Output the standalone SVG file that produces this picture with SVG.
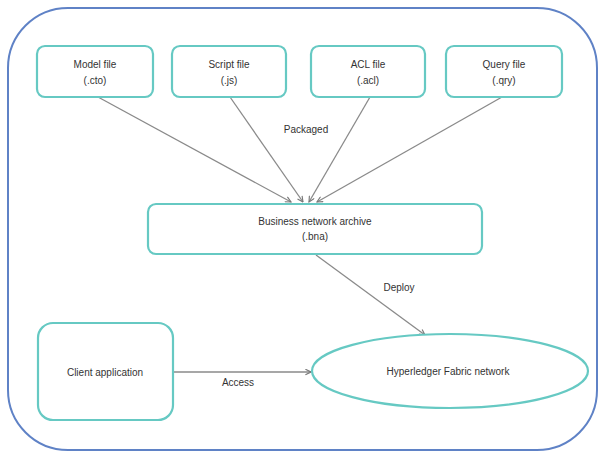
<svg xmlns="http://www.w3.org/2000/svg" width="601" height="453" viewBox="0 0 601 453">
  <style>
    .frame { fill: #ffffff; stroke: #5f82c6; stroke-width: 2; }
    .node { fill: #ffffff; stroke: #66c9c3; stroke-width: 2.2; }
    .edge { fill: none; stroke: #8a8a8a; stroke-width: 1.3; marker-end: url(#arrow); }
    text { font-family: "Liberation Sans", Arial, sans-serif; font-size: 10px; fill: #333333; text-anchor: middle; }
  </style>
  <defs>
    <marker id="arrow" viewBox="0 0 10 10" refX="9" refY="5" markerWidth="7" markerHeight="7" orient="auto" markerUnits="userSpaceOnUse">
      <path d="M1,1 L9,5 L1,9" fill="none" stroke="#777777" stroke-width="1.6"/>
    </marker>
  </defs>
  <rect width="601" height="453" fill="#ffffff"/>
  <!-- outer container -->
  <rect class="frame" x="8" y="8" width="589" height="442" rx="60" ry="60"/>

  <!-- connectors -->
  <g id="connectors">
    <line class="edge" x1="98" y1="97" x2="291" y2="202"/>
    <line class="edge" x1="230" y1="97" x2="303" y2="202"/>
    <line class="edge" x1="370" y1="97" x2="309" y2="202"/>
    <line class="edge" x1="502" y1="97" x2="317" y2="202"/>
    <line class="edge" x1="316" y1="255" x2="425" y2="335"/>
    <line class="edge" x1="173" y1="372" x2="311" y2="372"/>
    <text x="306" y="133">Packaged</text>
    <text x="399" y="291">Deploy</text>
    <text x="238" y="386">Access</text>
  </g>

  <g id="model-file">
    <rect class="node" x="37" y="46" width="116" height="51" rx="8"/>
    <text x="95" y="68">Model file</text>
    <text x="95" y="84">(.cto)</text>
  </g>
  <g id="script-file">
    <rect class="node" x="172" y="46" width="114" height="51" rx="8"/>
    <text x="229" y="68">Script file</text>
    <text x="229" y="84">(.js)</text>
  </g>
  <g id="acl-file">
    <rect class="node" x="311" y="46" width="114" height="51" rx="8"/>
    <text x="368" y="68">ACL file</text>
    <text x="368" y="84">(.acl)</text>
  </g>
  <g id="query-file">
    <rect class="node" x="446" y="46" width="116" height="51" rx="8"/>
    <text x="504" y="68">Query file</text>
    <text x="504" y="84">(.qry)</text>
  </g>
  <g id="bna">
    <rect class="node" x="148" y="204" width="334" height="50" rx="8"/>
    <text x="315" y="225">Business network archive</text>
    <text x="315" y="240">(.bna)</text>
  </g>
  <g id="client-app">
    <rect class="node" x="38" y="323" width="135" height="97" rx="15"/>
    <text x="105" y="376">Client application</text>
  </g>
  <g id="fabric-network">
    <ellipse class="node" cx="450" cy="371" rx="138" ry="37"/>
    <text x="448" y="375">Hyperledger Fabric network</text>
  </g>
</svg>
